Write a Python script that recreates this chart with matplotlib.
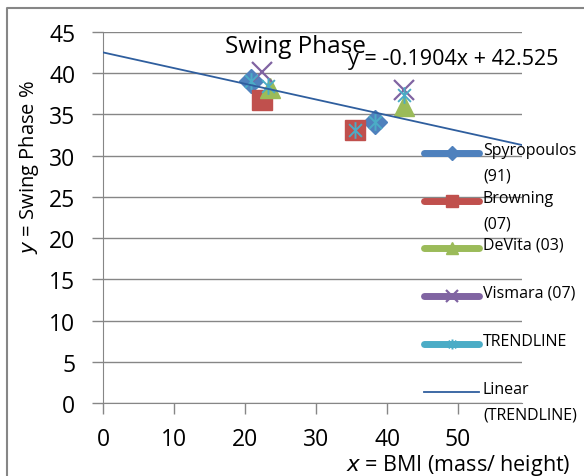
import numpy as np
import matplotlib.pyplot as plt
from matplotlib.path import Path
from matplotlib.lines import Line2D

plt.rcParams['font.family'] = ['Open Sans', 'DejaVu Sans']

# data
series_names = ['Spyropoulos\n(91)', 'Browning\n(07)', 'DeVita (03)', 'Vismara (07)', 'TRENDLINE']
spy_x = [20.9, 38.3]
spy_y = [39.0, 34.1]
brow_x = [22.4, 35.5]
brow_y = [36.8, 33.1]
devita_x = [23.5, 42.4]
devita_y = [38.2, 36.0]
vis_x = [22.4, 42.4]
vis_y = [40.2, 38.0]
trend_x = [20.9, 23.2, 35.5, 38.3, 42.4]
trend_y = [39.0, 38.5, 33.1, 34.1, 37.4]
slope, intercept = -0.1904, 42.525
x_ticks = [0, 10, 20, 30, 40, 50]
y_ticks = [0, 5, 10, 15, 20, 25, 30, 35, 40, 45]

# excel style asterisk: x plus vertical bar
star = Path([(-1, -1), (1, 1), (-1, 1), (1, -1), (0, -1.3), (0, 1.3)],
            [Path.MOVETO, Path.LINETO, Path.MOVETO, Path.LINETO, Path.MOVETO, Path.LINETO])

styles = [
    dict(color='#4F81BD', marker='D', ms=12),
    dict(color='#C0504D', marker='s', ms=14),
    dict(color='#9BBB59', marker='^', ms=14),
    dict(color='#8064A2', marker='x', ms=14, mew=1.6),
    dict(color='#4BACC6', marker=star, ms=12, mew=1.4),
]
xs = [spy_x, brow_x, devita_x, vis_x, trend_x]
ys = [spy_y, brow_y, devita_y, vis_y, trend_y]
line_col = '#2F5E9E'

W, H = 584, 477
fig = plt.figure(figsize=(W / 100, H / 100), dpi=100)
ax = fig.add_axes([103 / W, 1 - 404 / H, (522 - 103) / W, (404 - 33) / H])

for x, y, st in zip(xs, ys, styles):
    ax.plot(x, y, ls='none', marker=st['marker'], ms=st['ms'], color=st['color'],
            mew=st.get('mew', 1), zorder=3)

xx = np.array([0, 59])
ax.plot(xx, slope * xx + intercept, color=line_col, lw=1.3, zorder=4)

ax.set_xlim(0, 59)
ax.set_ylim(0, 45)
ax.set_xticks(x_ticks)
ax.set_yticks(y_ticks)
ax.tick_params(labelsize=16.5, length=8, width=1, color='#868686')
ax.tick_params(axis='y', pad=12)
ax.tick_params(axis='x', pad=9)
ax.grid(axis='y', color='#868686', lw=1)
for s in ['top', 'right']:
    ax.spines[s].set_visible(False)
for s in ['left', 'bottom']:
    ax.spines[s].set_color('#868686')

fig.text(29 / W, 1 - 167 / H, '$y$ = Swing Phase %', rotation=90, ha='center', va='center',
         fontsize=14.5)
fig.text(458 / W, 1 - 466 / H, '$x$ = BMI (mass/ height)', ha='center', va='center', fontsize=15.5)
fig.text(295 / W, 1 - 47 / H, 'Swing Phase', ha='center', va='center', fontsize=17.5)
fig.text(348 / W, 1 - 60 / H, 'y = -0.1904x + 42.525', ha='left', va='center', fontsize=15.5)

# legend drawn by hand to copy excel's layout
leg_y = [154, 202, 249, 297, 345]
for name, st, yy in zip(series_names, styles, leg_y):
    fy = 1 - yy / H
    fig.add_artist(Line2D([424 / W, 479 / W], [fy, fy], color=st['color'], lw=5,
                          solid_capstyle='round'))
    fig.add_artist(Line2D([451.5 / W], [fy], color=st['color'], marker=st['marker'],
                          ms=st['ms'] * 0.6, mew=st.get('mew', 1)))
    fig.text(483 / W, fy + 11 / H, name, ha='left', va='top', fontsize=11.5, linespacing=1.8)
fy = 1 - 393 / H
fig.add_artist(Line2D([424 / W, 479 / W], [fy, fy], color=line_col, lw=1.3))
fig.text(483 / W, fy + 11 / H, 'Linear\n(TRENDLINE)', ha='left', va='top', fontsize=11.5,
         linespacing=1.8)

# chart border
fig.add_artist(Line2D([7 / W, 7 / W, 1], [0, 1 - 9 / H, 1 - 9 / H], color='#868686', lw=1.5))

fig.savefig('out.png', dpi=100)
